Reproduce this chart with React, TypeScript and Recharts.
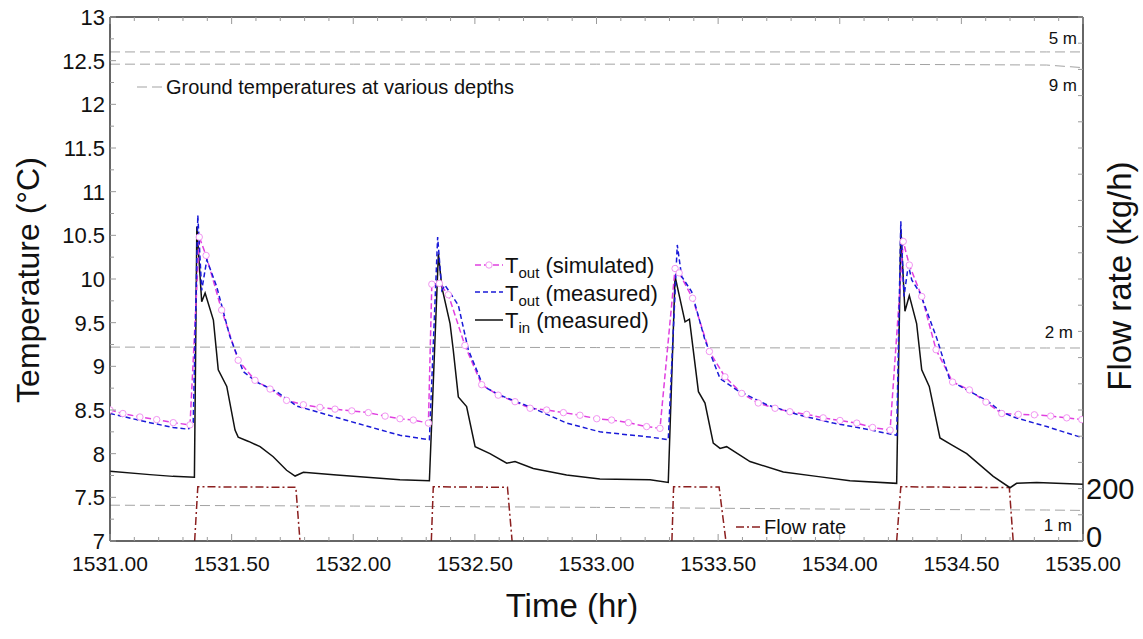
import React from "react";
import { LineChart, Line, XAxis, YAxis } from "recharts";

// ---- axis ticks ----
const xLabels = [1531, 1531.5, 1532, 1532.5, 1533, 1533.5, 1534, 1534.5, 1535];
const xTicks = Array.from({ length: 41 }, (_, i) => Math.round((1531 + i * 0.1) * 10) / 10);
const yLabels = [7, 7.5, 8, 8.5, 9, 9.5, 10, 10.5, 11, 11.5, 12, 12.5, 13];
const yTicks = Array.from({ length: 25 }, (_, i) => 7 + i * 0.25);
const flowLabels = [0, 200];
const flowTicks = Array.from({ length: 21 }, (_, i) => i * 100);

// ---- T_in (measured) ----
const tinTime = [
  1531.0, 1531.164, 1531.259, 1531.347, 1531.357, 1531.377, 1531.391, 1531.425, 1531.445, 1531.48,
  1531.514, 1531.527, 1531.57, 1531.617, 1531.671, 1531.726, 1531.761, 1531.795, 1531.932, 1532.192,
  1532.313, 1532.35, 1532.364, 1532.398, 1532.411, 1532.432, 1532.466, 1532.501, 1532.562, 1532.631,
  1532.665, 1532.74, 1532.877, 1533.014, 1533.22, 1533.295, 1533.323, 1533.364, 1533.382, 1533.419,
  1533.446, 1533.48, 1533.508, 1533.535, 1533.631, 1533.768, 1533.905, 1534.042, 1534.234, 1534.251,
  1534.268, 1534.286, 1534.316, 1534.337, 1534.368, 1534.412, 1534.46, 1534.522, 1534.631, 1534.7,
  1534.727, 1534.81, 1535.0,
];
const tinTemp = [
  7.8, 7.76, 7.74, 7.73, 10.6, 9.74, 9.84, 9.53, 8.96, 8.77,
  8.27, 8.19, 8.14, 8.08, 7.965, 7.81, 7.744, 7.786, 7.756, 7.7,
  7.69, 10.29, 9.91, 9.49, 9.19, 8.65, 8.54, 8.08, 8.0, 7.89,
  7.91, 7.83, 7.756, 7.71, 7.7, 7.67, 10.03, 9.51, 9.54, 8.71,
  8.58, 8.12, 8.06, 8.08, 7.91, 7.79, 7.74, 7.69, 7.66, 10.56,
  9.63, 9.81, 9.49, 8.96, 8.77, 8.18, 8.1, 8.0, 7.74, 7.61,
  7.66, 7.67, 7.65,
];

// ---- T_out (measured) ----
const toutMeasTime = [
  1531.0, 1531.164, 1531.259, 1531.322, 1531.342, 1531.361, 1531.377, 1531.398, 1531.439, 1531.493,
  1531.548, 1531.603, 1531.685, 1531.768, 1531.85, 1531.987, 1532.192, 1532.313, 1532.347, 1532.364,
  1532.377, 1532.432, 1532.473, 1532.535, 1532.603, 1532.74, 1532.877, 1533.014, 1533.22, 1533.295,
  1533.332, 1533.35, 1533.391, 1533.446, 1533.508, 1533.576, 1533.7, 1533.837, 1533.974, 1534.111,
  1534.234, 1534.251, 1534.264, 1534.282, 1534.296, 1534.33, 1534.399, 1534.453, 1534.522, 1534.604,
  1534.659, 1534.713, 1534.851, 1535.0,
];
const toutMeasTemp = [
  8.46, 8.355, 8.3, 8.28, 8.35, 10.73, 9.87, 10.22, 9.91, 9.34,
  8.94, 8.82, 8.71, 8.545, 8.48, 8.37, 8.21, 8.16, 10.48, 9.87,
  9.93, 9.7, 9.19, 8.77, 8.67, 8.52, 8.35, 8.25, 8.19, 8.16,
  10.39, 10.03, 9.855, 9.3, 8.86, 8.73, 8.56, 8.44, 8.35, 8.28,
  8.21, 10.66, 9.8, 10.16, 9.99, 9.84, 9.32, 8.84, 8.73, 8.61,
  8.49, 8.42, 8.31, 8.18,
];

// ---- T_out (simulated) ----
const toutSimTime = [
  1531.0, 1531.053, 1531.123, 1531.192, 1531.26, 1531.329, 1531.367, 1531.395, 1531.459, 1531.527,
  1531.596, 1531.658, 1531.726, 1531.795, 1531.863, 1531.925, 1531.994, 1532.062, 1532.131, 1532.192,
  1532.247, 1532.309, 1532.323, 1532.354, 1532.391, 1532.459, 1532.528, 1532.596, 1532.665, 1532.727,
  1532.795, 1532.864, 1532.932, 1533.001, 1533.062, 1533.131, 1533.206, 1533.261, 1533.323, 1533.34,
  1533.395, 1533.464, 1533.528, 1533.597, 1533.665, 1533.734, 1533.795, 1533.864, 1533.932, 1534.001,
  1534.07, 1534.135, 1534.207, 1534.261, 1534.286, 1534.337, 1534.396, 1534.464, 1534.533, 1534.601,
  1534.666, 1534.734, 1534.8, 1534.867, 1534.933, 1534.995,
];
const toutSimTemp = [
  8.5, 8.46, 8.42, 8.39, 8.355, 8.33, 10.48, 10.27, 9.645, 9.07,
  8.84, 8.74, 8.61, 8.56, 8.53, 8.51, 8.49, 8.47, 8.43, 8.4,
  8.385, 8.35, 9.94, 9.95, 9.82, 9.24, 8.79, 8.67, 8.595, 8.52,
  8.5, 8.47, 8.44, 8.4, 8.385, 8.355, 8.31, 8.29, 10.12, 10.07,
  9.78, 9.17, 8.88, 8.69, 8.58, 8.52, 8.48, 8.45, 8.41, 8.38,
  8.35, 8.3, 8.27, 10.43, 10.16, 9.8, 9.19, 8.82, 8.73, 8.59,
  8.46, 8.45, 8.445, 8.43, 8.41, 8.39,
];

// ---- flow rate (kg/h), null = gap between pulses ----
const flowTime = [
  1531.348, 1531.361, 1531.764, 1531.781, 1532.05, 1532.321, 1532.329, 1532.634, 1532.653, 1533.0,
  1533.31, 1533.317, 1533.504, 1533.532, 1533.9, 1534.234, 1534.251, 1534.697, 1534.713,
];
const flowRate = [0, 207, 205, 0, null, 0, 207, 205, 0, null, 0, 207, 206, 0, null, 0, 207, 204, 0];

// ---- ground temperatures at various depths ----
const groundTime = [1531, 1532, 1533, 1534, 1534.85, 1535];
const ground5m = [12.6, 12.6, 12.6, 12.6, 12.6, 12.6];
const ground9m = [12.46, 12.46, 12.46, 12.46, 12.45, 12.42];
const ground2m = [9.22, 9.22, 9.215, 9.21, 9.21, 9.21];
const ground1m = [7.41, 7.4, 7.385, 7.365, 7.355, 7.35];

const zip = (ts: number[], vs: (number | null)[]) => ts.map((t, i) => ({ t, v: vs[i] }));

const tinData = zip(tinTime, tinTemp);
const toutMeasData = zip(toutMeasTime, toutMeasTemp);
const toutSimData = zip(toutSimTime, toutSimTemp);
const flowData = zip(flowTime, flowRate);
const groundSeries = [ground5m, ground9m, ground2m, ground1m].map((g) => zip(groundTime, g));

const isHalf = (v: number) => Math.abs(v * 2 - Math.round(v * 2)) < 1e-6;
const TICK = "#9a9a9a";
const FONT = "'Liberation Sans', Arial, sans-serif";

const BottomTick = ({ x, y, payload }: any) => {
  const major = isHalf(payload.value);
  return (
    <g>
      <line x1={x} x2={x} y1={y} y2={y - (major ? 7 : 4)} stroke={TICK} />
      {major && (
        <text x={x} y={y + 30} textAnchor="middle" fontSize={21} fill="#111" fontFamily={FONT}>
          {payload.value.toFixed(2)}
        </text>
      )}
    </g>
  );
};

const TopTick = ({ x, y, payload }: any) => {
  const major = isHalf(payload.value);
  return <line x1={x} x2={x} y1={y} y2={y + (major ? 7 : 4)} stroke={TICK} />;
};

const LeftTick = ({ x, y, payload }: any) => {
  const major = yLabels.includes(payload.value);
  return (
    <g>
      <line x1={x} x2={x + (major ? 6 : 4)} y1={y} y2={y} stroke={TICK} />
      {major && (
        <text x={x - 5} y={y + 8} textAnchor="end" fontSize={22} fill="#111" fontFamily={FONT}>
          {String(payload.value)}
        </text>
      )}
    </g>
  );
};

const RightTick = ({ x, y, payload }: any) => {
  const label = flowLabels.includes(payload.value);
  return (
    <g>
      <line x1={x} x2={x - 5} y1={y} y2={y} stroke={TICK} />
      {label && (
        <text
          x={x + 3}
          y={payload.value === 0 ? y + 6 : y + 10}
          textAnchor="start"
          fontSize={29}
          fill="#111"
          fontFamily={FONT}
        >
          {String(payload.value)}
        </text>
      )}
    </g>
  );
};

export default function App() {
  return (
    <div
      style={{
        position: "absolute",
        left: 0,
        top: 0,
        width: 1143,
        height: 639,
        background: "#fff",
        fontFamily: FONT,
      }}
    >
      <LineChart width={1143} height={639} margin={{ top: 16, right: 20, bottom: 68, left: 50 }}>
        <XAxis
          xAxisId={0}
          dataKey="t"
          type="number"
          domain={[1531, 1535]}
          ticks={xTicks}
          interval={0}
          height={30}
          tickSize={0}
          tickMargin={0}
          tick={<BottomTick />}
          axisLine={{ stroke: "#333", strokeWidth: 1.5 }}
          allowDataOverflow
        />
        <XAxis
          xAxisId="top"
          orientation="top"
          dataKey="t"
          type="number"
          domain={[1531, 1535]}
          ticks={xTicks}
          interval={0}
          height={1}
          tickSize={0}
          tickMargin={0}
          tick={<TopTick />}
          axisLine={{ stroke: "#333", strokeWidth: 1.5 }}
          allowDataOverflow
        />
        <YAxis
          yAxisId="temp"
          domain={[7, 13]}
          ticks={yTicks}
          interval={0}
          width={60}
          tickSize={0}
          tickMargin={0}
          tick={<LeftTick />}
          axisLine={{ stroke: "#333", strokeWidth: 1.5 }}
          allowDataOverflow
        />
        <YAxis
          yAxisId="flow"
          orientation="right"
          domain={[0, 2000]}
          ticks={flowTicks}
          interval={0}
          width={40}
          tickSize={0}
          tickMargin={0}
          tick={<RightTick />}
          axisLine={{ stroke: "#333", strokeWidth: 1.5 }}
          allowDataOverflow
        />

        {groundSeries.map((g, i) => (
          <Line
            key={i}
            data={g}
            xAxisId={0}
            yAxisId="temp"
            dataKey="v"
            type="linear"
            stroke="#a3a3a3"
            strokeWidth={1}
            strokeDasharray="10 5"
            dot={false}
            isAnimationActive={false}
          />
        ))}

        <Line
          data={flowData}
          xAxisId={0}
          yAxisId="flow"
          dataKey="v"
          type="linear"
          stroke="#8b1f1f"
          strokeWidth={1.5}
          strokeDasharray="8 3 2 3"
          dot={false}
          connectNulls={false}
          isAnimationActive={false}
        />
        <Line
          data={tinData}
          xAxisId={0}
          yAxisId="temp"
          dataKey="v"
          type="linear"
          stroke="#111"
          strokeWidth={1.5}
          dot={false}
          isAnimationActive={false}
        />
        <Line
          data={toutSimData}
          xAxisId={0}
          yAxisId="temp"
          dataKey="v"
          type="linear"
          stroke="#e040e0"
          strokeWidth={1.5}
          strokeDasharray="6 3"
          dot={{ r: 3.2, stroke: "#f296f2", fill: "#fff", strokeWidth: 1, strokeDasharray: "none" }}
          isAnimationActive={false}
        />
        <Line
          data={toutMeasData}
          xAxisId={0}
          yAxisId="temp"
          dataKey="v"
          type="linear"
          stroke="#1a1ad8"
          strokeWidth={1.5}
          strokeDasharray="5 3"
          dot={false}
          isAnimationActive={false}
        />
      </LineChart>

      <svg
        width={1143}
        height={639}
        style={{ position: "absolute", left: 0, top: 0, pointerEvents: "none" }}
        fontFamily={FONT}
      >
        {/* axis titles */}
        <text x={39} y={280} transform="rotate(-90 39 280)" textAnchor="middle" fontSize={32} fill="#111">
          Temperature (°C)
        </text>
        <text x={1131} y={276} transform="rotate(-90 1131 276)" textAnchor="middle" fontSize={33} fill="#111">
          Flow rate (kg/h)
        </text>
        <text x={572} y={617} textAnchor="middle" fontSize={33} fill="#111">
          Time (hr)
        </text>

        {/* ground temperature legend */}
        <line x1={137} x2={163} y1={87} y2={87} stroke="#a3a3a3" strokeDasharray="10 5" />
        <text x={166} y={94} fontSize={20} fill="#111">
          Ground temperatures at various depths
        </text>

        {/* depth labels */}
        <text x={1077} y={44} textAnchor="end" fontSize={17} fill="#111">5 m</text>
        <text x={1077} y={91} textAnchor="end" fontSize={17} fill="#111">9 m</text>
        <text x={1073} y={338} textAnchor="end" fontSize={17} fill="#111">2 m</text>
        <text x={1072} y={531} textAnchor="end" fontSize={17} fill="#111">1 m</text>

        {/* series legend */}
        <line x1={475} x2={503} y1={265} y2={265} stroke="#e040e0" strokeWidth={1.5} strokeDasharray="6 3" />
        <circle cx={489} cy={265} r={3.2} stroke="#f296f2" fill="#fff" />
        <text x={505} y={273} fontSize={22} fill="#111">
          T<tspan fontSize={15} dy={5}>out</tspan>
          <tspan dy={-5}> (simulated)</tspan>
        </text>
        <line x1={475} x2={503} y1={292} y2={292} stroke="#1a1ad8" strokeWidth={1.5} strokeDasharray="5 3" />
        <text x={505} y={301} fontSize={22} fill="#111">
          T<tspan fontSize={15} dy={5}>out</tspan>
          <tspan dy={-5}> (measured)</tspan>
        </text>
        <line x1={475} x2={503} y1={320} y2={320} stroke="#111" strokeWidth={1.5} />
        <text x={505} y={328} fontSize={22} fill="#111">
          T<tspan fontSize={15} dy={5}>in</tspan>
          <tspan dy={-5}> (measured)</tspan>
        </text>

        {/* flow legend */}
        <line x1={736} x2={762} y1={527} y2={527} stroke="#8b1f1f" strokeWidth={1.5} strokeDasharray="8 3 2 3" />
        <text x={764} y={534} fontSize={20} fill="#111">
          Flow rate
        </text>
      </svg>
    </div>
  );
}
